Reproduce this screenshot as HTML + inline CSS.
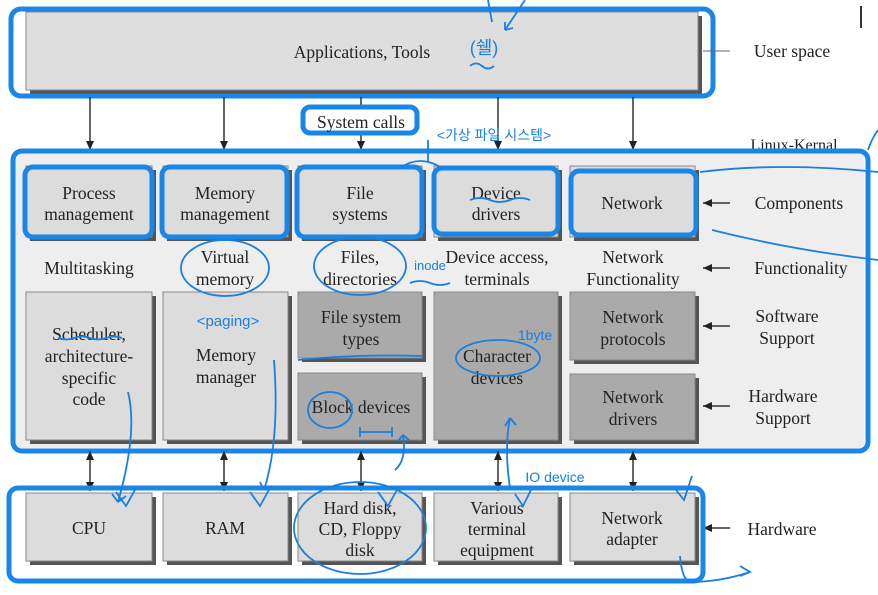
<!DOCTYPE html>
<html><head><meta charset="utf-8"><style>
html,body{margin:0;padding:0;background:#fff;}
svg{display:block;}
text{font-family:"Liberation Serif",serif;fill:#222;font-size:17.5px;text-anchor:middle;}
.k{font-family:"Liberation Sans","Noto Sans CJK KR",sans-serif;fill:#1a7fe0;font-size:15px;}
.hb{fill:none;stroke:#1a86e8;stroke-width:5;}
.hw{fill:none;stroke:#1a7fe0;stroke-width:1.8;}
</style></head><body>
<svg width="878" height="595" viewBox="0 0 878 595" xmlns="http://www.w3.org/2000/svg">
<defs>
<marker id="a" markerWidth="10" markerHeight="10" refX="9" refY="4" orient="auto-start-reverse" markerUnits="userSpaceOnUse"><path d="M0,0 L9,4 L0,8 z" fill="#222"/></marker>
</defs>
<!-- user space -->
<rect x="30" y="16" width="672" height="78" fill="#555"/>
<rect x="26" y="12" width="672" height="78" fill="#dedede" stroke="#888"/>
<text x="362" y="58">Applications, Tools</text>
<rect class="hb" x="11" y="9" width="702" height="87" rx="10"/>
<line x1="703" y1="51" x2="730" y2="51" stroke="#666"/>
<text x="792" y="57">User space</text>
<text x="794" y="150" style="font-size:16px">Linux-Kernal</text>
<!-- arrows top -->
<g stroke="#333" stroke-width="1.5">
<line x1="90" y1="97" x2="90" y2="150" marker-end="url(#a)"/>
<line x1="224" y1="97" x2="224" y2="150" marker-end="url(#a)"/>
<line x1="361" y1="97" x2="361" y2="150" marker-end="url(#a)"/>
<line x1="498" y1="97" x2="498" y2="150" marker-end="url(#a)"/>
<line x1="633" y1="97" x2="633" y2="150" marker-end="url(#a)"/>
</g>
<rect x="303" y="107" width="114" height="26" rx="7" fill="#fff" stroke="#1a86e8" stroke-width="5"/>
<text x="361" y="128">System calls</text>
<!-- kernel -->
<rect x="14" y="152" width="850" height="296" fill="#eee"/>
<g fill="#555"><rect x="30" y="170" width="126" height="71"/><rect x="167" y="170" width="125" height="71"/><rect x="302" y="170" width="124" height="71"/><rect x="438" y="170" width="124" height="71"/><rect x="574" y="170" width="125" height="71"/></g>
<g fill="#dcdcdc" stroke="#888"><rect x="26" y="166" width="126" height="71"/><rect x="163" y="166" width="125" height="71"/><rect x="298" y="166" width="124" height="71"/><rect x="434" y="166" width="124" height="71"/><rect x="570" y="166" width="125" height="71"/></g>
<text x="89" y="199">Process</text><text x="89" y="220">management</text>
<text x="225" y="199">Memory</text><text x="225" y="220">management</text>
<text x="360" y="199">File</text><text x="360" y="220">systems</text>
<text x="496" y="199">Device</text><text x="496" y="220">drivers</text>
<text x="632" y="209">Network</text>
<g class="hb" stroke-width="4"><rect x="25" y="167" width="127" height="70" rx="8"/><rect x="162" y="167" width="125" height="70" rx="8"/><rect x="297" y="167" width="125" height="70" rx="8"/><rect x="434" y="168" width="124" height="66" rx="8"/><rect x="571" y="171" width="125" height="64" rx="8"/></g>
<text x="89" y="274">Multitasking</text>
<text x="225" y="263">Virtual</text><text x="225" y="285">memory</text>
<text x="360" y="263">Files,</text><text x="360" y="285">directories</text>
<text x="497" y="263">Device access,</text><text x="497" y="285">terminals</text>
<text x="633" y="263">Network</text><text x="633" y="285">Functionality</text>
<g fill="#555"><rect x="30" y="296" width="126" height="148"/><rect x="167" y="296" width="125" height="148"/><rect x="302" y="296" width="124" height="66"/><rect x="302" y="377" width="124" height="67"/><rect x="438" y="296" width="124" height="148"/><rect x="574" y="296" width="125" height="68"/><rect x="574" y="378" width="125" height="66"/></g>
<g stroke="#888"><rect x="26" y="292" width="126" height="148" fill="#dcdcdc"/><rect x="163" y="292" width="125" height="148" fill="#dcdcdc"/><rect x="298" y="292" width="124" height="66" fill="#aaa"/><rect x="298" y="373" width="124" height="67" fill="#aaa"/><rect x="434" y="292" width="124" height="148" fill="#aaa"/><rect x="570" y="292" width="125" height="68" fill="#aaa"/><rect x="570" y="374" width="125" height="66" fill="#aaa"/></g>
<text x="89" y="340">Scheduler,</text><text x="89" y="362">architecture-</text><text x="89" y="384">specific</text><text x="89" y="405">code</text>
<text x="226" y="361">Memory</text><text x="226" y="383">manager</text>
<text x="361" y="323">File system</text><text x="361" y="345">types</text>
<text x="361" y="413">Block devices</text>
<text x="497" y="362">Character</text><text x="497" y="384">devices</text>
<text x="633" y="323">Network</text><text x="633" y="345">protocols</text>
<text x="633" y="403">Network</text><text x="633" y="425">drivers</text>
<rect class="hb" x="13" y="151" width="855" height="300" rx="9"/>
<g stroke="#333" stroke-width="1.5">
<line x1="730" y1="203" x2="703" y2="203" marker-end="url(#a)"/>
<line x1="730" y1="268" x2="703" y2="268" marker-end="url(#a)"/>
<line x1="730" y1="326" x2="703" y2="326" marker-end="url(#a)"/>
<line x1="730" y1="406" x2="703" y2="406" marker-end="url(#a)"/>
<line x1="730" y1="528" x2="703" y2="528" marker-end="url(#a)"/>
</g>
<text x="799" y="209">Components</text>
<text x="801" y="274">Functionality</text>
<text x="787" y="322">Software</text><text x="787" y="344">Support</text>
<text x="783" y="402">Hardware</text><text x="783" y="424">Support</text>
<text x="782" y="535">Hardware</text>
<g stroke="#333" stroke-width="1.5">
<line x1="90" y1="451" x2="90" y2="491" marker-start="url(#a)" marker-end="url(#a)"/>
<line x1="224" y1="451" x2="224" y2="491" marker-start="url(#a)" marker-end="url(#a)"/>
<line x1="361" y1="451" x2="361" y2="491" marker-start="url(#a)" marker-end="url(#a)"/>
<line x1="498" y1="451" x2="498" y2="491" marker-start="url(#a)" marker-end="url(#a)"/>
<line x1="633" y1="451" x2="633" y2="491" marker-start="url(#a)" marker-end="url(#a)"/>
</g>
<g fill="#555"><rect x="30" y="497" width="126" height="68"/><rect x="167" y="497" width="125" height="68"/><rect x="302" y="497" width="124" height="68"/><rect x="438" y="497" width="124" height="68"/><rect x="574" y="497" width="125" height="68"/></g>
<g fill="#dcdcdc" stroke="#888"><rect x="26" y="493" width="126" height="68"/><rect x="163" y="493" width="125" height="68"/><rect x="298" y="493" width="124" height="68"/><rect x="434" y="493" width="124" height="68"/><rect x="570" y="493" width="125" height="68"/></g>
<text x="89" y="534">CPU</text><text x="225" y="534">RAM</text>
<text x="360" y="514">Hard disk,</text><text x="360" y="535">CD, Floppy</text><text x="360" y="556">disk</text>
<text x="497" y="514">Various</text><text x="497" y="535">terminal</text><text x="497" y="556">equipment</text>
<text x="632" y="524">Network</text><text x="632" y="545">adapter</text>
<rect class="hb" x="9" y="488" width="694" height="93" rx="9"/>
<!-- handwriting -->
<text class="k" x="484" y="54" style="font-size:18px">(쉘)</text>
<path class="hw" d="M470,66 q6,-5 12,0 q6,5 12,0"/>
<path class="hw" d="M488,0 L492,22 M525,0 L505,30 M505,30 l8,-2 M505,30 l0,-8"/>
<text class="k" x="494" y="140" style="font-size:14px">&lt;가상 파일 시스템&gt;</text>
<path class="hw" d="M400,168 q20,-14 42,0 M428,162 L428,140"/>
<path class="hw" d="M58,338 q8,3 16,0 q8,-3 16,0 q8,3 16,0 q8,-3 16,0"/>
<path class="hw" d="M470,200 q10,-4 20,0 q10,4 20,0 q10,-4 20,0"/>
<ellipse class="hw" cx="225" cy="268" rx="44" ry="28"/>
<ellipse class="hw" cx="360" cy="266" rx="46" ry="29"/>
<text class="k" x="430" y="270" style="font-size:13px">inode</text>
<path class="hw" d="M410,283 q10,-4 20,0 q10,4 20,0"/>
<text class="k" x="228" y="326" style="font-size:15px">&lt;paging&gt;</text>
<path class="hw" d="M298,360 q60,-6 124,-4"/>
<ellipse class="hw" cx="330" cy="410" rx="22" ry="18"/>
<path class="hw" d="M360,432 L392,432 M360,427 L360,437 M392,427 L392,437"/>
<ellipse class="hw" cx="498" cy="358" rx="42" ry="18"/>
<text class="k" x="535" y="340" style="font-size:14px">1byte</text>
<path class="hw" d="M128,392 q10,40 -10,110 M118,502 l-6,-8 M118,502 l8,-6"/>
<path class="hw" d="M274,360 q6,80 -10,130 M264,490 l-4,-8 M264,490 l8,-4"/>
<path class="hw" d="M510,488 q-6,-40 0,-70 M510,418 l-5,8 M510,418 l6,7"/>
<path class="hw" d="M395,470 q12,-10 8,-35 M403,435 l-5,6 M403,435 l6,5"/>
<text class="k" x="555" y="482" style="font-size:14px">IO device</text>
<ellipse class="hw" cx="360" cy="528" rx="66" ry="46"/>
<path class="hw" d="M116,492 l10,14 l10,-18 M250,492 l10,14 l10,-18 M378,492 l10,14 l10,-18 M515,494 l8,12 l8,-16 M676,490 l8,10 l8,-24"/>
<path class="hw" d="M680,556 q2,24 10,26 q30,0 60,-10 M740,566 l10,6 l-10,4"/>
<path class="hw" d="M700,172 q80,-10 178,0 M712,230 q80,20 166,30 M868,150 q4,-12 10,-20"/>
<line x1="861" y1="6" x2="861" y2="28" stroke="#333" stroke-width="2"/>
</svg>
</body></html>
